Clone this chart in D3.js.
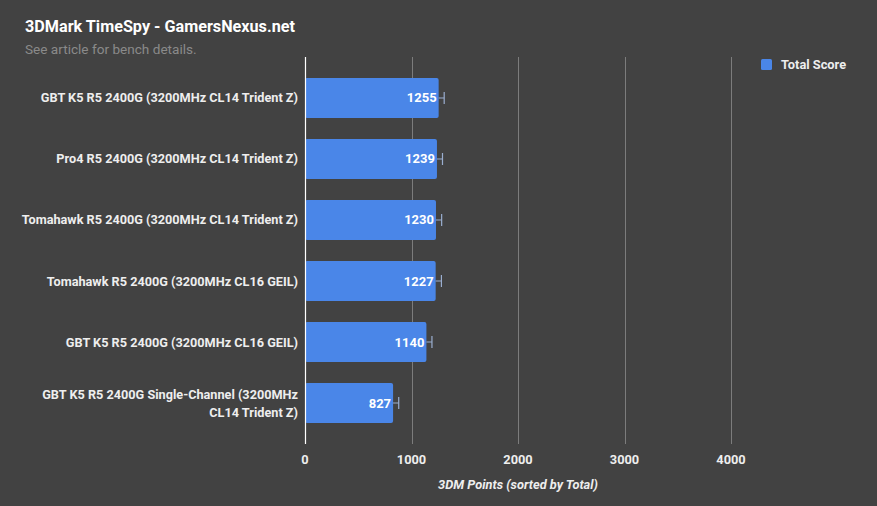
<!DOCTYPE html>
<html>
<head>
<meta charset="utf-8">
<script src="https://cdn.jsdelivr.net/npm/d3@7"></script>
<style>
  body { margin: 0; background: #424242; }
  svg { display: block; font-family: Roboto, "Noto Sans", sans-serif; }
</style>
</head>
<body>
<div id="chart"></div>
<script>
// chart data
const labels = [
  "GBT K5 R5 2400G (3200MHz CL14 Trident Z)",
  "Pro4 R5 2400G (3200MHz CL14 Trident Z)",
  "Tomahawk R5 2400G (3200MHz CL14 Trident Z)",
  "Tomahawk R5 2400G (3200MHz CL16 GEIL)",
  "GBT K5 R5 2400G (3200MHz CL16 GEIL)",
  "GBT K5 R5 2400G Single-Channel (3200MHz|CL14 Trident Z)"
];
const totalScore = [1255, 1239, 1230, 1227, 1140, 827];
const errors = [52, 52, 53, 54, 52, 53];
const xTicks = [0, 1000, 2000, 3000, 4000];

const W = 877, H = 506;
const margin = {top: 57, right: 146, bottom: 62, left: 305};

const svg = d3.select("#chart").append("svg")
  .attr("width", W).attr("height", H);

svg.append("rect").attr("width", W).attr("height", H).attr("fill", "#424242");

const x = d3.scaleLinear().domain([0, 4000]).range([margin.left, W - margin.right]);
const y = d3.scaleBand().domain(labels).range([margin.top, H - margin.bottom]).padding(0.344);

// gridlines
svg.append("g").selectAll("line")
  .data(xTicks.filter(d => d !== 0))
  .enter().append("line")
  .attr("x1", d => Math.round(x(d)) + 0.5).attr("x2", d => Math.round(x(d)) + 0.5)
  .attr("y1", margin.top).attr("y2", H - margin.bottom)
  .attr("stroke", "#7c7c7c").attr("stroke-width", 1);

// bars
const bars = svg.append("g").selectAll("g")
  .data(labels.map((l, i) => ({label: l, v: totalScore[i], e: errors[i]})))
  .enter().append("g");

bars.append("rect")
  .attr("x", x(0))
  .attr("y", d => y(d.label))
  .attr("width", d => x(d.v) - x(0))
  .attr("height", y.bandwidth())
  .attr("rx", 2)
  .attr("fill", "#4a86e8");

// error whiskers
bars.append("line")
  .attr("x1", d => x(d.v)).attr("x2", d => x(d.v + d.e))
  .attr("y1", d => y(d.label) + y.bandwidth() / 2)
  .attr("y2", d => y(d.label) + y.bandwidth() / 2)
  .attr("stroke", "#9aaed0").attr("stroke-width", 1);
bars.append("line")
  .attr("x1", d => x(d.v + d.e)).attr("x2", d => x(d.v + d.e))
  .attr("y1", d => y(d.label) + y.bandwidth() / 2 - 6)
  .attr("y2", d => y(d.label) + y.bandwidth() / 2 + 6)
  .attr("stroke", "#9aaed0").attr("stroke-width", 1.2);

// value labels
bars.append("text")
  .attr("x", d => x(d.v) - 2)
  .attr("y", d => y(d.label) + y.bandwidth() / 2 + 4.5)
  .attr("text-anchor", "end")
  .attr("fill", "#ffffff")
  .style("font-size", "13px").style("font-weight", "bold")
  .text(d => d.v);

// zero line
svg.append("line")
  .attr("x1", x(0) + 0.5).attr("x2", x(0) + 0.5)
  .attr("y1", margin.top).attr("y2", H - margin.bottom)
  .attr("stroke", "#ffffff").attr("stroke-width", 1.2);

// category labels
const catG = svg.append("g");
labels.forEach(l => {
  const parts = l.split("|");
  const cy = y(l) + y.bandwidth() / 2;
  const t = catG.append("text")
    .attr("text-anchor", "end")
    .attr("fill", "#eeeeee")
    .style("font-size", "12.7px").style("font-weight", "bold");
  parts.forEach((p, i) => {
    t.append("tspan")
      .attr("x", 298)
      .attr("y", cy + 4.5 + (i - (parts.length - 1) / 2) * 18)
      .text(p);
  });
});

// x tick labels
svg.append("g").selectAll("text")
  .data(xTicks).enter().append("text")
  .attr("x", d => x(d))
  .attr("y", 464)
  .attr("text-anchor", "middle")
  .attr("fill", "#eeeeee")
  .style("font-size", "12.8px").style("font-weight", "bold")
  .text(d => d);

// axis title
svg.append("text")
  .attr("x", (x(0) + x(4000)) / 2)
  .attr("y", 489)
  .attr("text-anchor", "middle")
  .attr("fill", "#eeeeee")
  .style("font-size", "12.8px").style("font-weight", "bold").style("font-style", "italic")
  .text("3DM Points (sorted by Total)");

// title + subtitle
svg.append("text")
  .attr("x", 25).attr("y", 32)
  .attr("fill", "#ffffff")
  .style("font-size", "16.2px").style("font-weight", "bold")
  .text("3DMark TimeSpy - GamersNexus.net");
svg.append("text")
  .attr("x", 25).attr("y", 54)
  .attr("fill", "#8a8a8a")
  .style("font-size", "13.6px")
  .text("See article for bench details.");

// legend
svg.append("rect")
  .attr("x", 761).attr("y", 59).attr("width", 11).attr("height", 11)
  .attr("rx", 1.5)
  .attr("fill", "#4a86e8");
svg.append("text")
  .attr("x", 781).attr("y", 69)
  .attr("fill", "#eeeeee")
  .style("font-size", "12.8px").style("font-weight", "bold")
  .text("Total Score");
</script>
</body>
</html>
